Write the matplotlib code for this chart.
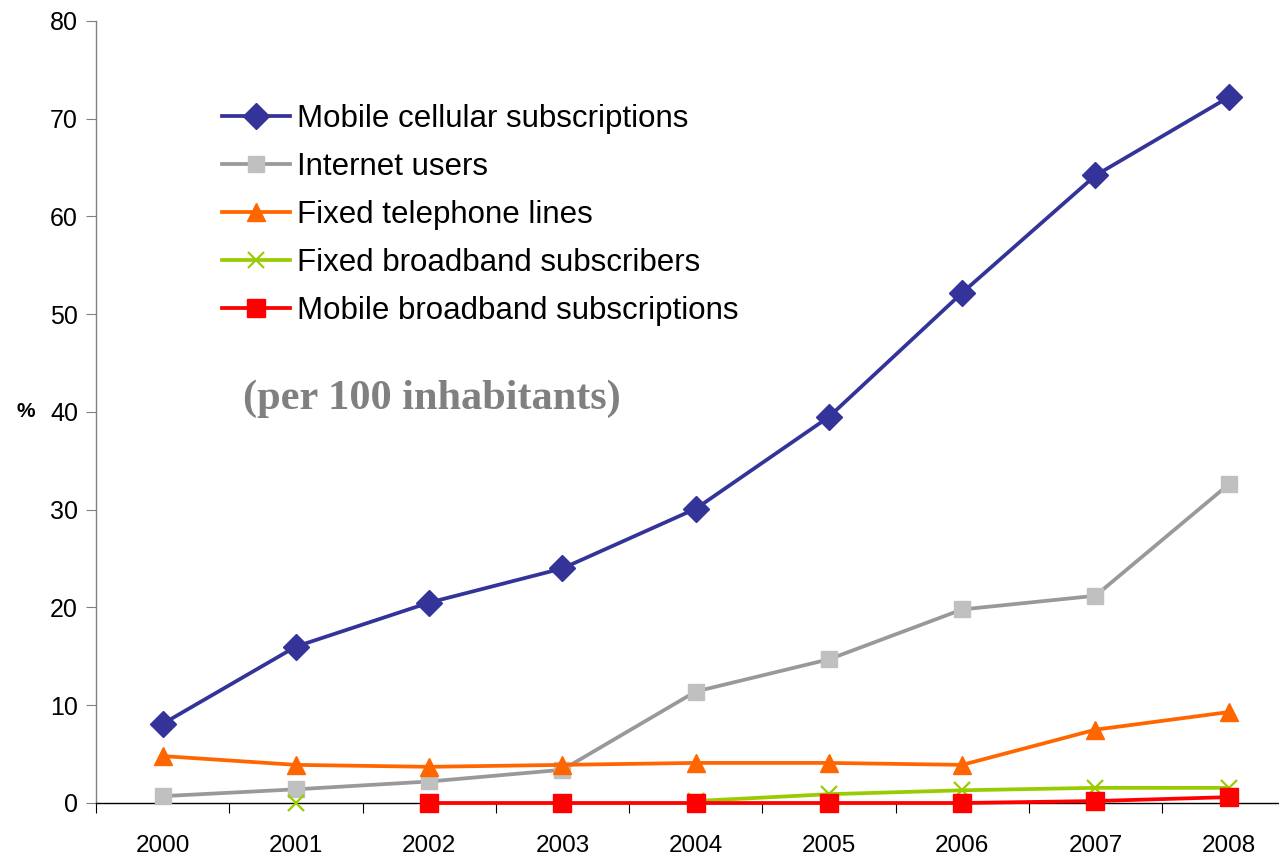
import matplotlib.pyplot as plt
import numpy as np
from matplotlib.ticker import FixedLocator

plt.rcParams["font.family"] = ["Liberation Sans", "DejaVu Sans"]

years = ["2000", "2001", "2002", "2003", "2004", "2005", "2006", "2007", "2008"]
nan = np.nan

mobile_cellular = [8.1, 16.0, 20.5, 24.0, 30.1, 39.5, 52.2, 64.2, 72.2]
internet_users = [0.7, 1.4, 2.2, 3.4, 11.4, 14.7, 19.8, 21.2, 32.6]
fixed_telephone = [4.8, 3.9, 3.7, 3.9, 4.1, 4.1, 3.9, 7.5, 9.3]
fixed_broadband = [nan, 0.0, nan, nan, 0.2, 0.9, 1.3, 1.55, 1.55]
mobile_broadband = [nan, nan, 0.0, 0.0, 0.0, 0.0, 0.0, 0.2, 0.6]

series = [
    ("Mobile cellular subscriptions", mobile_cellular,
     dict(color="#333399", marker="D", ms=13, mfc="#333399", mec="#333399")),
    ("Internet users", internet_users,
     dict(color="#999999", marker="s", ms=11, mfc="#C0C0C0", mec="#C0C0C0")),
    ("Fixed telephone lines", fixed_telephone,
     dict(color="#FF6600", marker="^", ms=13, mfc="#FF6600", mec="#FF6600")),
    ("Fixed broadband subscribers", fixed_broadband,
     dict(color="#99CC00", marker="x", ms=12, mew=1.6, mfc="#99CC00", mec="#99CC00")),
    ("Mobile broadband subscriptions", mobile_broadband,
     dict(color="#FF0000", marker="s", ms=13, mfc="#FF0000", mec="#FF0000")),
]

fig = plt.figure(figsize=(12.79, 8.59), dpi=100)
ax = fig.add_axes([0.0751, 0.0652, 0.9377, 0.9104])

x = np.arange(len(years))
for i, (label, values, style) in enumerate(series):
    ax.plot(x, values, label=label, lw=2.7, clip_on=False, zorder=3 + i, **style)

ax.set_xlim(-0.5, len(years) - 0.5)
ax.set_ylim(0, 80)
ax.set_yticks(range(0, 81, 10))
ax.set_xticks(x)
ax.set_xticklabels(years)
ax.xaxis.set_minor_locator(FixedLocator(np.arange(-0.5, len(years), 1.0)))

ax.tick_params(axis="x", which="major", length=0, pad=23, labelsize=17.5)
ax.tick_params(axis="x", which="minor", length=7, width=0.8, direction="out", color="black")
ax.tick_params(axis="y", length=7, width=0.8, direction="out", color="#808080",
               pad=6, labelsize=18)

for side in ("top", "right"):
    ax.spines[side].set_visible(False)
ax.spines["left"].set_color("#808080")
ax.spines["left"].set_linewidth(1.0)
ax.spines["bottom"].set_color("black")
ax.spines["bottom"].set_linewidth(1.0)

ax.text(-1.03, 40, "%", ha="center", va="center", fontsize=15, fontweight="bold")

ax.text(0.6, 41.4, "(per 100 inhabitants)", ha="left", va="center",
        fontsize=30.5, fontweight="bold", color="#808080",
        family=["Liberation Serif", "DejaVu Serif"])

ax.legend(loc="upper left", bbox_to_anchor=(0.105, 0.894), frameon=False,
          fontsize=22.5, handlelength=2.17, handletextpad=0.22, labelspacing=0.58,
          borderaxespad=0, borderpad=0, numpoints=1)

fig.savefig("out.png", dpi=100)
